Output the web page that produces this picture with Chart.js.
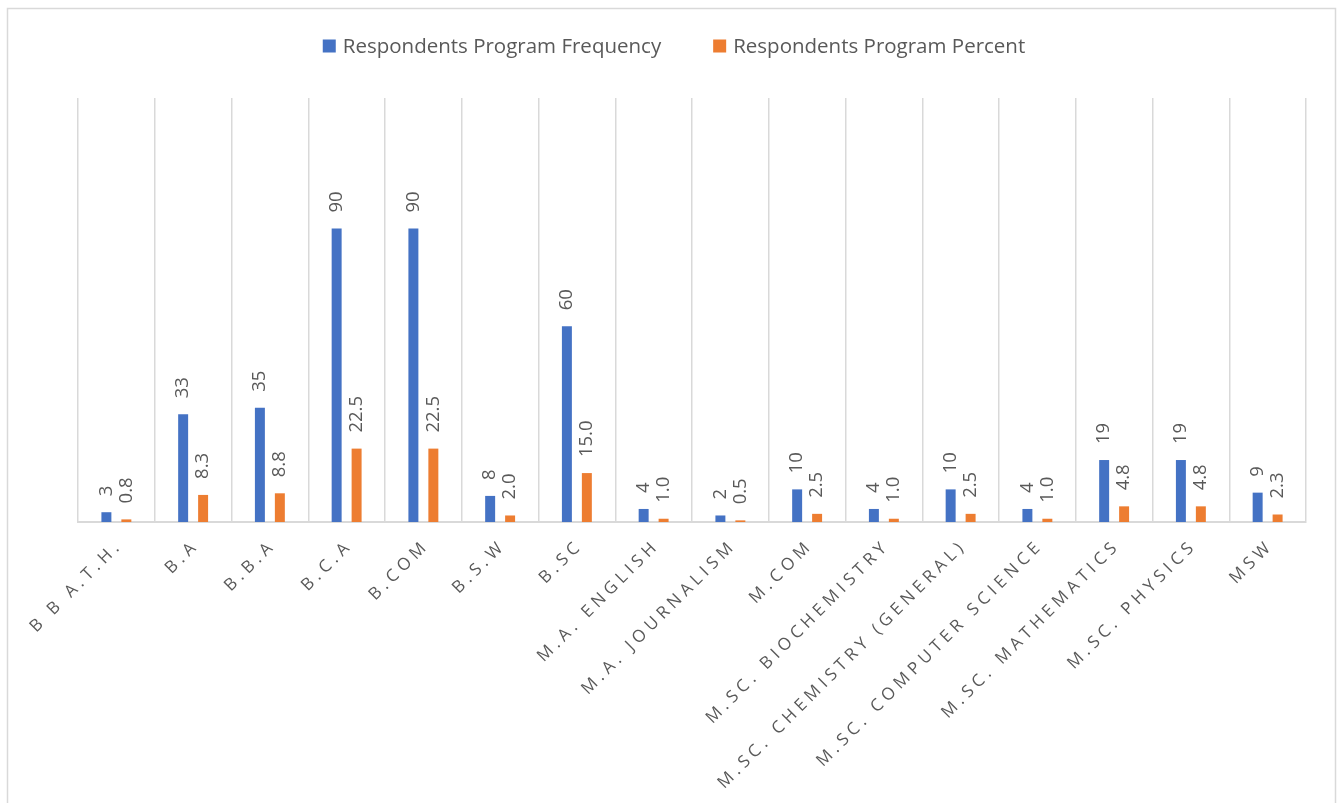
<!DOCTYPE html>
<html>
<head>
<meta charset="utf-8">
<title>Respondents Program</title>
<script src="https://cdn.jsdelivr.net/npm/chart.js@4.4.0/dist/chart.umd.min.js"></script>
<style>
  html, body { margin: 0; padding: 0; background: #fff; }
  #wrap { width: 1343px; height: 803px; }
</style>
</head>
<body>
<div id="wrap"><canvas id="programChart" width="1343" height="803"></canvas></div>
<script>
var programs = ['B B A.T.H.', 'B.A', 'B.B.A', 'B.C.A', 'B.COM', 'B.S.W', 'B.SC',
  'M.A. ENGLISH', 'M.A. JOURNALISM', 'M.COM', 'M.SC. BIOCHEMISTRY',
  'M.SC. CHEMISTRY (GENERAL)', 'M.SC. COMPUTER SCIENCE', 'M.SC. MATHEMATICS',
  'M.SC. PHYSICS', 'MSW'];
var frequency = [3, 33, 35, 90, 90, 8, 60, 4, 2, 10, 4, 10, 4, 19, 19, 9];
var percent = [0.8, 8.3, 8.8, 22.5, 22.5, 2.0, 15.0, 1.0, 0.5, 2.5, 1.0, 2.5, 1.0, 4.8, 4.8, 2.3];
var seriesNames = ['Respondents Program Frequency', 'Respondents Program Percent'];
var seriesColors = ['#4472C4', '#ED7D31'];

var textGray = '#595959';
var fontName = '"Open Sans", sans-serif';

// white page plus the light frame round the chart
var framePlugin = {
  id: 'frame',
  beforeDraw: function (chart) {
    var ctx = chart.ctx;
    ctx.save();
    ctx.fillStyle = '#fff';
    ctx.fillRect(0, 0, chart.width, chart.height);
    ctx.strokeStyle = '#d9d9d9';
    ctx.lineWidth = 1.5;
    ctx.strokeRect(7.5, 8.5, 1328, 820);
    ctx.restore();
  }
};

// legend row centred above the plot
var legendPlugin = {
  id: 'topLegend',
  afterDraw: function (chart) {
    var ctx = chart.ctx;
    var box = 13, gap = 7, between = 52, cy = 46;
    ctx.save();
    ctx.font = '20.5px ' + fontName;
    ctx.textBaseline = 'middle';
    var widths = chart.data.datasets.map(function (ds) { return ctx.measureText(ds.label).width; });
    var total = widths.reduce(function (a, w) { return a + box + gap + w; }, 0) + between * (widths.length - 1);
    var x = 674 - total / 2;
    chart.data.datasets.forEach(function (ds, i) {
      ctx.fillStyle = ds.backgroundColor;
      ctx.fillRect(x, cy - box / 2, box, box);
      ctx.fillStyle = textGray;
      ctx.fillText(ds.label, x + box + gap, cy + 1);
      x += box + gap + widths[i] + between;
    });
    ctx.restore();
  }
};

// rotated value labels above each bar
var valueLabels = {
  id: 'valueLabels',
  afterDatasetsDraw: function (chart) {
    var ctx = chart.ctx;
    ctx.save();
    ctx.font = '18.5px ' + fontName;
    ctx.fillStyle = textGray;
    ctx.textAlign = 'left';
    ctx.textBaseline = 'middle';
    chart.data.datasets.forEach(function (ds, i) {
      chart.getDatasetMeta(i).data.forEach(function (bar, j) {
        var v = ds.data[j];
        var txt = i === 0 ? String(v) : v.toFixed(1);
        ctx.save();
        ctx.translate(bar.x, bar.y - 16);
        ctx.rotate(-Math.PI / 2);
        ctx.fillText(txt, 0, 0);
        ctx.restore();
      });
    });
    ctx.restore();
  }
};

// category names at 45 degrees, letter spaced
var categoryLabels = {
  id: 'categoryLabels',
  afterDraw: function (chart) {
    var ctx = chart.ctx;
    var xs = chart.scales.x;
    var spacing = 4.6;
    var y0 = chart.chartArea.bottom + 24;
    ctx.save();
    ctx.font = '17px ' + fontName;
    ctx.fillStyle = textGray;
    ctx.textAlign = 'right';
    ctx.textBaseline = 'middle';
    if ('letterSpacing' in ctx) ctx.letterSpacing = spacing + 'px';
    chart.data.labels.forEach(function (lab, j) {
      ctx.save();
      ctx.translate(xs.getPixelForValue(j), y0);
      ctx.rotate(-Math.PI / 4);
      ctx.fillText(lab, spacing, 0);
      ctx.restore();
    });
    ctx.restore();
  }
};

new Chart(document.getElementById('programChart'), {
  type: 'bar',
  data: {
    labels: programs,
    datasets: [
      { label: seriesNames[0], data: frequency, backgroundColor: seriesColors[0] },
      { label: seriesNames[1], data: percent, backgroundColor: seriesColors[1] }
    ]
  },
  options: {
    responsive: false,
    animation: false,
    datasets: { bar: { categoryPercentage: 0.52, barPercentage: 0.5 } },
    layout: { padding: { left: 78, right: 37, top: 98, bottom: 281 } },
    plugins: { legend: { display: false }, tooltip: { enabled: false } },
    scales: {
      x: {
        grid: { color: '#d9d9d9', lineWidth: 1.5, drawTicks: false, offset: true },
        border: { color: '#d9d9d9', width: 2 },
        ticks: { display: false }
      },
      y: { display: false, min: 0, max: 130 }
    }
  },
  plugins: [framePlugin, legendPlugin, valueLabels, categoryLabels]
});
</script>
</body>
</html>
